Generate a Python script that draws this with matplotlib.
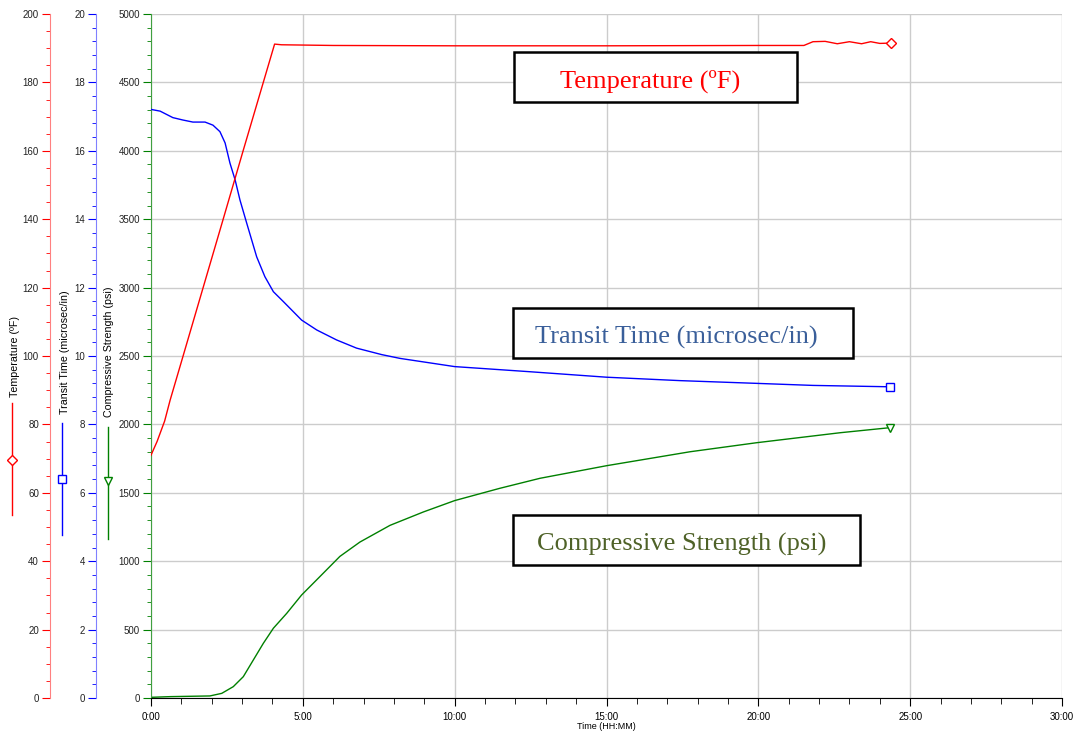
import matplotlib.pyplot as plt
from matplotlib.lines import Line2D
from matplotlib.patches import Rectangle
from matplotlib.ticker import MultipleLocator, FuncFormatter

# tempo em horas
temp_t = [0, 0.2, 0.45, 0.63, 1.06, 1.72, 2.38, 3.04, 4.07, 4.3, 6, 10, 15, 20, 21.5, 21.8, 22.2, 22.6, 23.0, 23.4, 23.7, 24.0, 24.37]
temp_v = [71, 75, 81, 87.1, 100.1, 120.1, 140.1, 160.2, 191.2, 191.0, 190.8, 190.7, 190.7, 190.8, 190.8, 191.9, 192.0, 191.3, 191.9, 191.3, 191.9, 191.4, 191.5]

trans_t = [0, 0.3, 0.72, 1.05, 1.38, 1.78, 2.04, 2.27, 2.44, 2.6, 2.77, 2.93, 3.15, 3.48, 3.75, 4.03, 4.36, 4.96,
           5.46, 6.11, 6.77, 7.6, 8.2, 10.0, 12.48, 15.0, 17.42, 19.94, 21.8, 24.33]
trans_v = [17.21, 17.16, 16.97, 16.9, 16.84, 16.84, 16.75, 16.56, 16.23, 15.64, 15.15, 14.56, 13.89, 12.9, 12.32, 11.88, 11.59, 11.05,
           10.76, 10.47, 10.23, 10.04, 9.93, 9.69, 9.54, 9.38, 9.28, 9.2, 9.14, 9.1]

str_t = [0, 0.63, 1.94, 2.33, 2.71, 3.04, 3.37, 3.7, 4.03, 4.47, 4.96, 5.56, 6.22, 6.88, 7.87, 8.97, 10.0, 11.49,
         12.81, 15.0, 17.75, 19.94, 22.69, 24.33]
str_v = [5, 10, 15, 34, 83, 156, 278, 400, 510, 619, 753, 887, 1035, 1140, 1262, 1360, 1443, 1533,
         1606, 1698, 1800, 1866, 1939, 1976]

W, H = 1076, 733
fig = plt.figure(figsize=(W / 100, H / 100), dpi=100)
plt.rcParams['font.family'] = 'Liberation Sans'

ax = fig.add_axes([151 / W, 35 / H, 911 / W, 684 / H])
ax2 = ax.twinx()
ax3 = ax.twinx()

def px(x, y):
    return x / W, 1 - y / H

# eixo de resistencia (principal)
ax.plot(str_t, str_v, color='#008000', lw=1)
ax.plot(str_t[-1], str_v[-1], marker='v', mfc='white', mec='#008000', ms=6)
ax.set_xlim(0, 30)
ax.set_ylim(0, 5000)
ax.yaxis.set_major_locator(MultipleLocator(500))
ax.yaxis.set_minor_locator(MultipleLocator(100))
ax.xaxis.set_major_locator(MultipleLocator(5))
ax.xaxis.set_minor_locator(MultipleLocator(1))
ax.xaxis.set_major_formatter(FuncFormatter(lambda v, p: '%d:00' % v))
ax.grid(True, which='major', color='#cccccc', lw=1)
ax.set_axisbelow(True)
for s in ['top', 'right']:
    ax.spines[s].set_visible(False)
ax.spines['left'].set_color('#40a040')
ax.tick_params(axis='y', which='both', colors='#008000', labelcolor='#222222', labelsize=7, pad=2)
ax.tick_params(axis='y', which='major', length=6)
ax.tick_params(axis='y', which='minor', length=3)
ax.tick_params(axis='x', which='major', length=6, labelsize=7, pad=4)
ax.tick_params(axis='x', which='minor', length=4)
ax.set_xlabel('Time (HH:MM)', fontsize=6.5, labelpad=0)

# transit time
ax2.plot(trans_t, trans_v, color='#0000ff', lw=1)
ax2.plot(trans_t[-1], trans_v[-1], marker='s', mfc='white', mec='#0000ff', ms=6)
ax2.set_ylim(0, 20)
ax2.yaxis.set_major_locator(MultipleLocator(2))
ax2.yaxis.set_minor_locator(MultipleLocator(0.4))

# temperatura
ax3.plot(temp_t, temp_v, color='#ff0000', lw=1)
ax3.plot(temp_t[-1], temp_v[-1], marker='D', mfc='white', mec='#ff0000', ms=5)
ax3.set_ylim(0, 200)
ax3.yaxis.set_major_locator(MultipleLocator(20))
ax3.yaxis.set_minor_locator(MultipleLocator(5))

for a, off, sc, tc in [(ax2, -55, '#8080ff', '#0000ff'), (ax3, -101, '#ff8080', '#ff0000')]:
    for s in ['top', 'right', 'bottom']:
        a.spines[s].set_visible(False)
    a.spines['left'].set_visible(True)
    a.spines['left'].set_position(('axes', off / 911))
    a.spines['left'].set_color(sc)
    a.yaxis.set_ticks_position('left')
    a.yaxis.set_label_position('left')
    a.tick_params(axis='y', which='both', colors=tc, labelcolor='#222222', labelsize=7, pad=2)
    a.tick_params(axis='y', which='major', length=6)
    a.tick_params(axis='y', which='minor', length=3)

# titulos dos eixos com legenda
labels = [('Temperature (\u00baF)', 15, 397, 12, 403, 515, 460, '#ff0000', 'D', 5),
          ('Transit Time (microsec/in)', 65, 414, 62, 423, 535, 479, '#0000ff', 's', 6),
          ('Compressive Strength (psi)', 109, 417, 108, 427, 539, 481, '#008000', 'v', 6)]
for txt, tx, ty, lx, y0, y1, my, c, m, ms in labels:
    fig.text(*px(tx, ty), txt, rotation=90, ha='center', va='bottom', fontsize=7.7)
    fig.add_artist(Line2D([lx / W, lx / W], [1 - y0 / H, 1 - y1 / H], color=c, lw=1))
    fig.add_artist(Line2D([lx / W], [1 - my / H], marker=m, mfc='white', mec=c, ms=ms, color=c))

# caixas de texto
boxes = [('Temperature (\u00baF)', 514, 52, 283, 50, 560, '#ff0000'),
         ('Transit Time (microsec/in)', 513, 308, 340, 50, 535, '#3a5f9a'),
         ('Compressive Strength (psi)', 513, 515, 347, 50, 537, '#4f6228')]
for txt, bx, by, bw, bh, tx, c in boxes:
    fig.add_artist(Rectangle(px(bx, by + bh), bw / W, bh / H, facecolor='white',
                             edgecolor='black', lw=1.8, zorder=5))
    fig.text(*px(tx, by + bh / 2 + 4), txt, ha='left', va='center', fontsize=19,
             family='Liberation Serif', color=c, zorder=6)

plt.savefig('out.png', dpi=100)
